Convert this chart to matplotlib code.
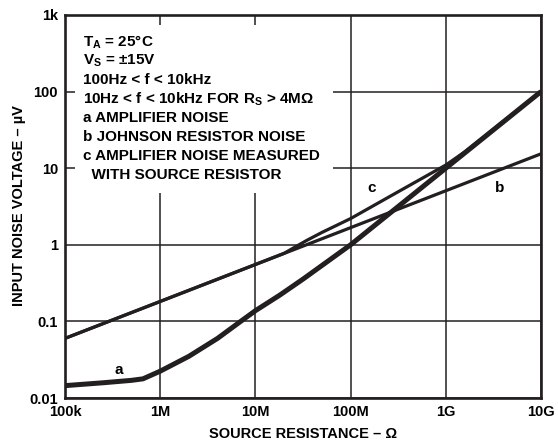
import matplotlib
matplotlib.use("Agg")
import matplotlib.pyplot as plt
from matplotlib.patches import Rectangle

plt.rcParams['font.family'] = ['Liberation Sans', 'DejaVu Sans']
plt.rcParams['font.weight'] = 'bold'
plt.rcParams['mathtext.fontset'] = 'custom'
plt.rcParams['mathtext.rm'] = 'Liberation Sans:bold'
plt.rcParams['mathtext.bf'] = 'Liberation Sans:bold'
plt.rcParams['mathtext.it'] = 'Liberation Sans:bold'

INK = '#231f20'

# ---- data ----
a_r = [1e5, 2.5e5, 5e5, 6.6e5, 1e6, 2e6, 4e6, 7e6, 1e7, 1.8e7, 3.2e7, 1e8, 1e9, 1e10]
a_v = [0.0145, 0.0158, 0.0170, 0.0178, 0.0224, 0.035, 0.060, 0.10, 0.138, 0.22, 0.36, 1.0, 10.0, 100.0]

b_r = [1e5, 1e10]
b_v = [0.060, 15.4]

c_r = [1e5, 2e7, 3.5e7, 5e7, 1e8, 3e8, 1e9, 1.6e9, 1e10]
c_v = [0.060, 0.774, 1.15, 1.45, 2.2, 4.75, 11.0, 16.5, 100.0]

x_ticks = [1e5, 1e6, 1e7, 1e8, 1e9, 1e10]
x_labels = ['100k', '1M', '10M', '100M', '1G', '10G']
y_ticks = [0.01, 0.1, 1, 10, 100, 1000]
y_labels = ['0.01', '0.1', '1', '10', '100', '1k']

notes = [r'$\mathrm{T_A}$ = 25°C',
         r'$\mathrm{V_S}$ = ±15V',
         '100Hz < f < 10kHz',
         r'10Hz < f < 10kHz FOR $\mathrm{R_S}$ > 4MΩ',
         'a AMPLIFIER NOISE',
         'b JOHNSON RESISTOR NOISE',
         'c AMPLIFIER NOISE MEASURED',
         '  WITH SOURCE RESISTOR']

W, H = 558, 444
fig = plt.figure(figsize=(W / 100, H / 100), dpi=100)
ax = fig.add_axes([65 / W, 1 - 398 / H, 476 / W, 383 / H])
ax.set_xscale('log')
ax.set_yscale('log')
ax.set_xlim(1e5, 1e10)
ax.set_ylim(0.01, 1000)

ax.set_axisbelow(True)
ax.grid(True, which='major', color=INK, lw=1.1)
ax.minorticks_off()
ax.set_xticks(x_ticks)
ax.set_xticklabels(x_labels)
ax.set_yticks(y_ticks)
ax.set_yticklabels(y_labels)
ax.tick_params(length=0, labelsize=10.5, colors='black', pad=5)
for s in ax.spines.values():
    s.set_color(INK)
    s.set_linewidth(1.9)

# white box behind the notes
ax.add_patch(Rectangle((10 / 476, (398 - 193) / 383), (333 - 75) / 476, (193 - 25) / 383,
                       transform=ax.transAxes, facecolor='white', edgecolor='none', zorder=1))

ax.plot(b_r, b_v, color=INK, lw=2.3, zorder=3, solid_capstyle='butt')
ax.plot(c_r, c_v, color=INK, lw=2.3, zorder=3, solid_capstyle='butt')
ax.plot(a_r, a_v, color=INK, lw=3.6, zorder=4, solid_capstyle='butt')

for i, t in enumerate(notes):
    fig.text(83 / W, 1 - (42 + 19 * i) / H, t, fontsize=11, fontweight='bold',
             va='center', ha='left', color='black')

fig.text(119 / W, 1 - 370 / H, 'a', fontsize=11, fontweight='bold', ha='center', va='center')
fig.text(500 / W, 1 - 188 / H, 'b', fontsize=11, fontweight='bold', ha='center', va='center')
fig.text(372 / W, 1 - 188 / H, 'c', fontsize=11, fontweight='bold', ha='center', va='center')

fig.text(303 / W, 1 - 434 / H, 'SOURCE RESISTANCE – Ω', fontsize=10.5, fontweight='bold',
         ha='center', va='center')
fig.text(19 / W, 1 - 206 / H, 'INPUT NOISE VOLTAGE – µV', fontsize=10.5, fontweight='bold',
         ha='center', va='center', rotation=90)

fig.savefig('out.png', dpi=100, facecolor='white')
